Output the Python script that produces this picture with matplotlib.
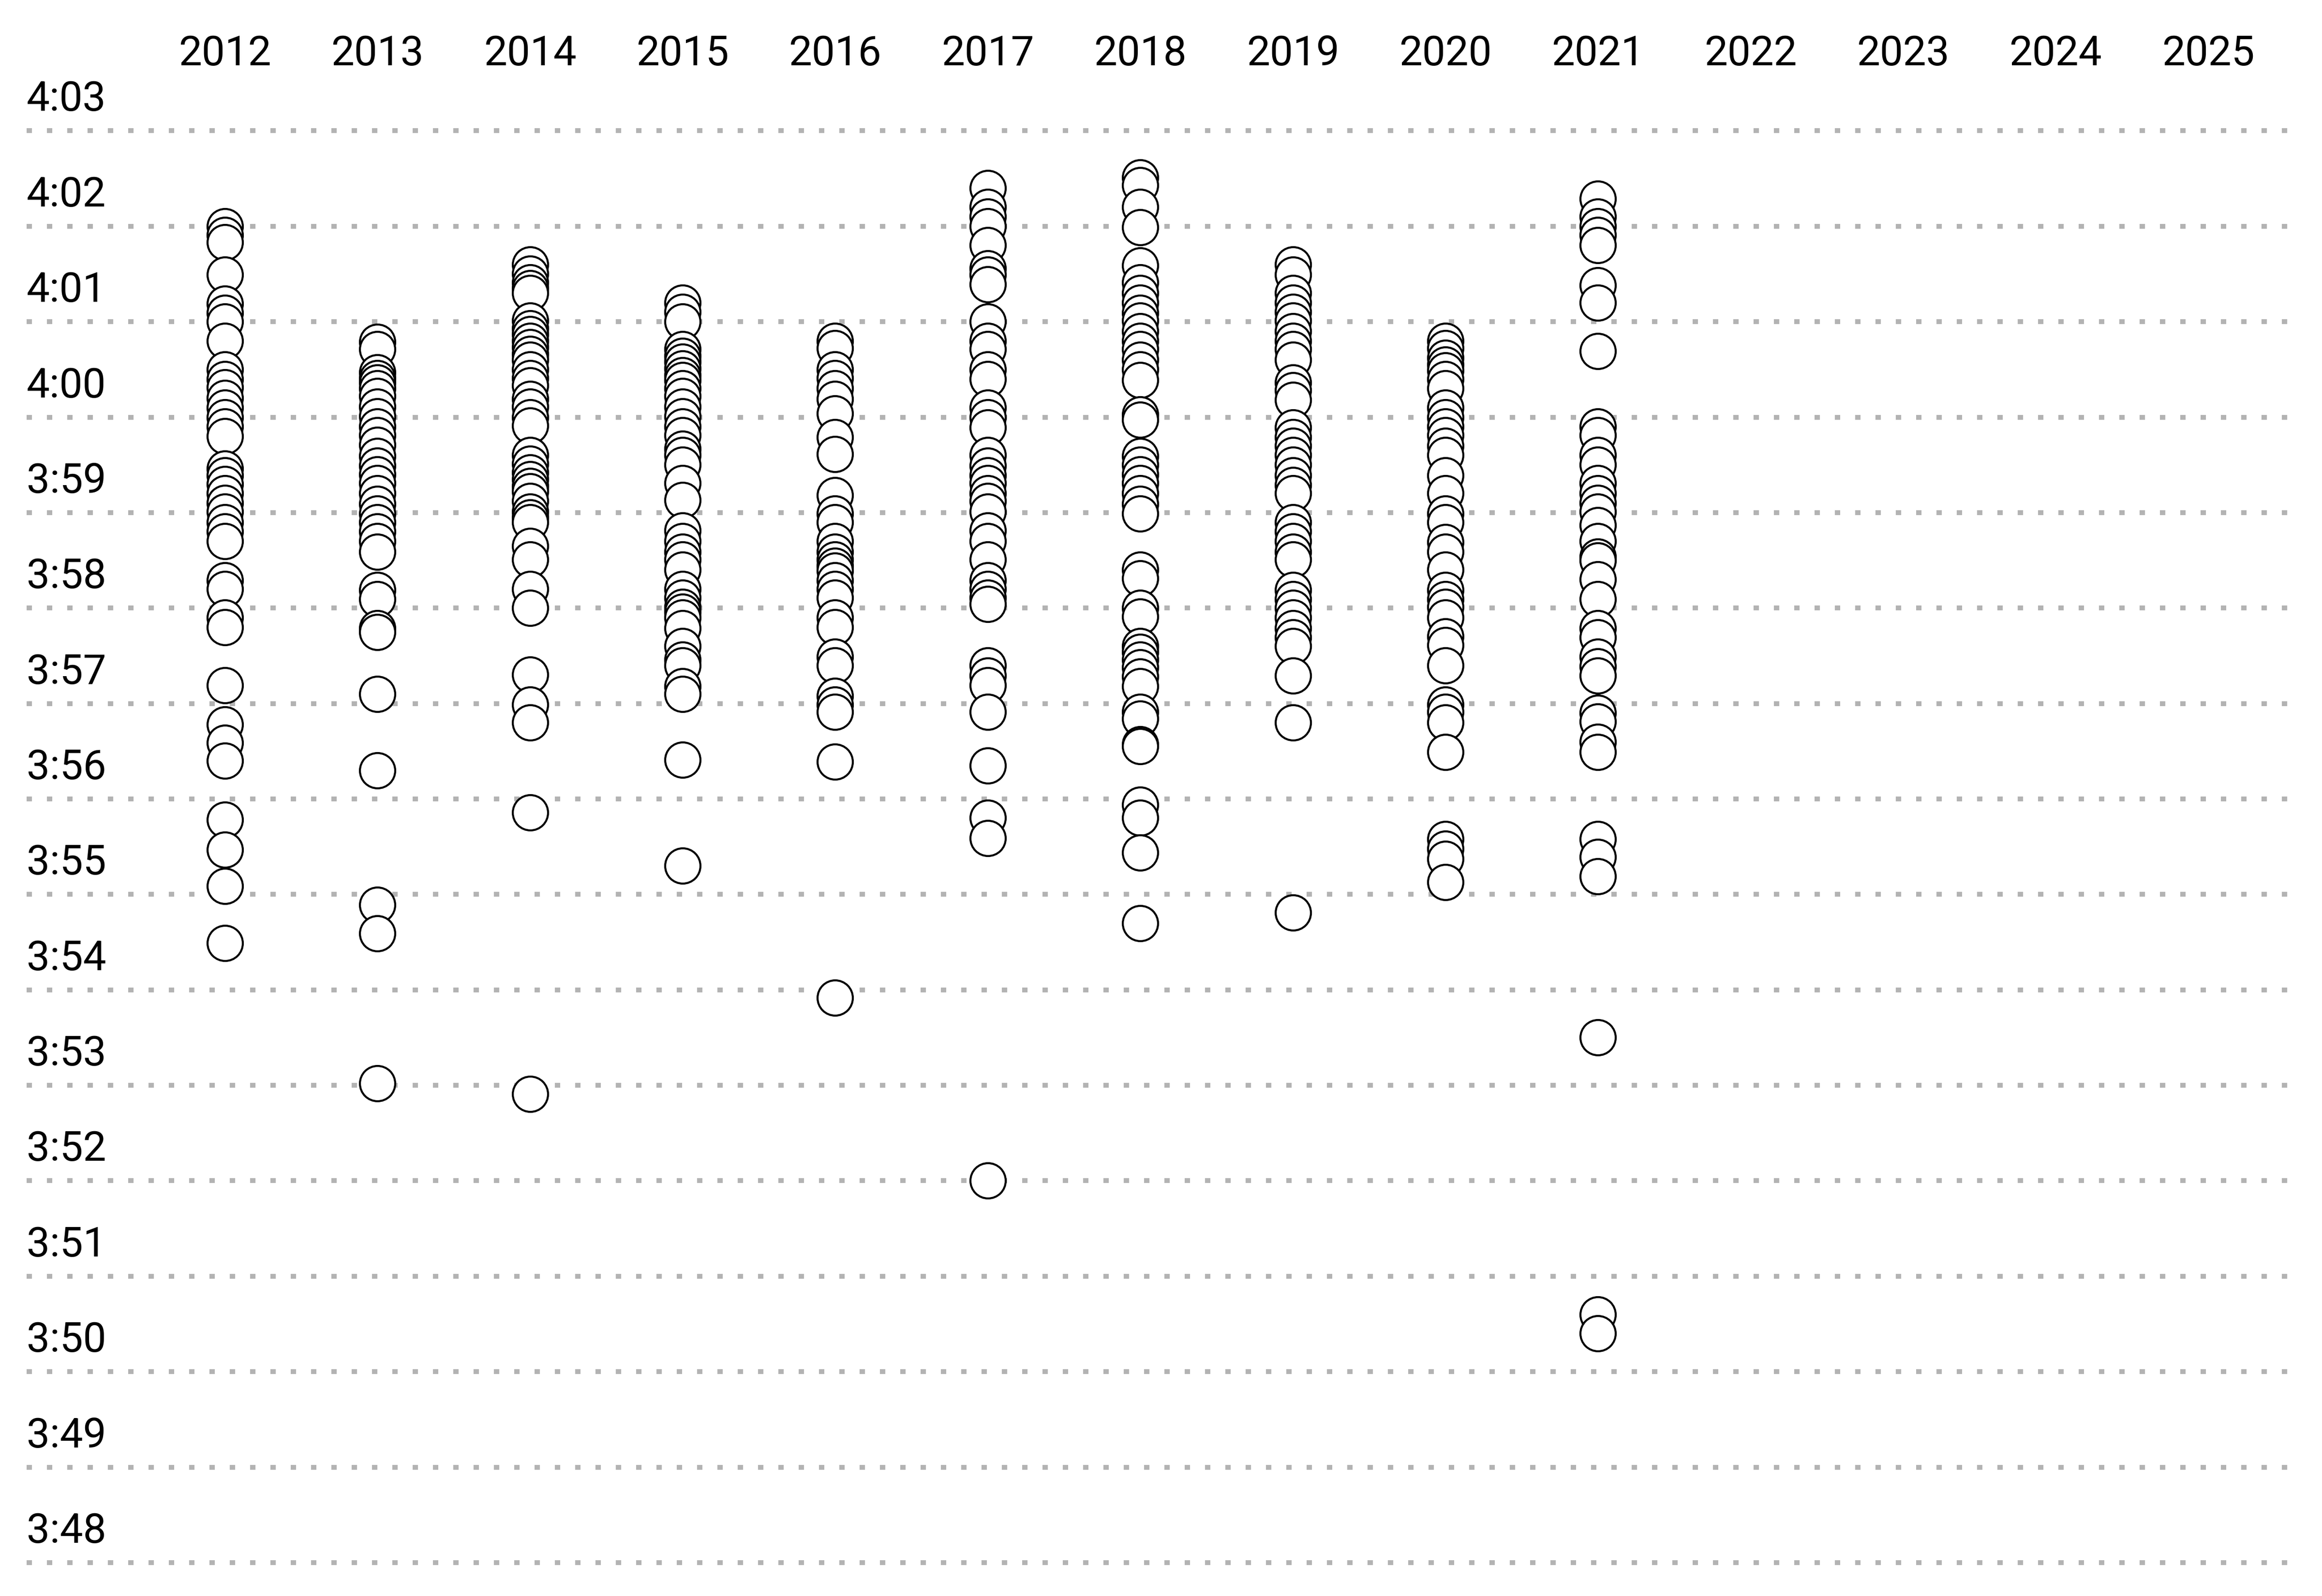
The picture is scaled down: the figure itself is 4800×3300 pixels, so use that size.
import matplotlib
matplotlib.use("Agg")
import matplotlib.pyplot as plt
import matplotlib.transforms as mtransforms

# mile times in seconds, per year
years = list(range(2012, 2026))

y2012 = [242.00, 241.91, 241.83, 241.49, 241.19, 241.09, 241.00, 240.80, 240.50, 240.40,
         240.31, 240.20, 240.10, 240.00, 239.90, 239.80, 239.46, 239.39, 239.30, 239.20,
         239.10, 239.01, 238.90, 238.80, 238.70, 238.29, 238.20, 237.90, 237.80, 237.19,
         236.78, 236.59, 236.40, 235.78, 235.47, 235.09, 234.49]
y2013 = [240.79, 240.71, 240.47, 240.41, 240.36, 240.30, 240.22, 240.11, 240.01, 239.90,
         239.81, 239.71, 239.59, 239.49, 239.40, 239.31, 239.20, 239.09, 238.99, 238.90,
         238.80, 238.70, 238.59, 238.19, 238.09, 237.79, 237.75, 237.10, 236.30, 234.89,
         234.59, 233.02]
y2014 = [241.60, 241.50, 241.41, 241.35, 241.30, 241.01, 240.93, 240.87, 240.80, 240.73,
         240.66, 240.60, 240.50, 240.41, 240.33, 240.19, 240.11, 240.00, 239.91, 239.60,
         239.51, 239.42, 239.35, 239.28, 239.22, 239.12, 239.01, 238.95, 238.90, 238.65,
         238.51, 238.20, 238.00, 237.30, 236.99, 236.80, 235.86, 232.91]
y2015 = [241.20, 241.10, 241.00, 240.71, 240.64, 240.58, 240.51, 240.44, 240.39, 240.30,
         240.22, 240.11, 240.01, 239.90, 239.81, 239.67, 239.60, 239.50, 239.31, 239.13,
         238.81, 238.70, 238.59, 238.51, 238.40, 238.20, 238.11, 238.01, 237.96, 237.90,
         237.79, 237.60, 237.46, 237.40, 237.18, 237.10, 236.41, 235.30]
y2016 = [240.80, 240.72, 240.50, 240.41, 240.30, 240.19, 240.04, 239.79, 239.61, 239.18,
         238.99, 238.90, 238.70, 238.59, 238.51, 238.44, 238.39, 238.29, 238.20, 238.11,
         237.90, 237.80, 237.49, 237.40, 237.08, 236.99, 236.91, 236.39, 233.92]
y2017 = [242.40, 242.20, 242.10, 242.00, 241.80, 241.56, 241.49, 241.39, 241.00, 240.80,
         240.71, 240.50, 240.40, 240.10, 240.00, 239.89, 239.60, 239.49, 239.39, 239.31,
         239.20, 239.12, 239.01, 238.81, 238.70, 238.51, 238.29, 238.20, 238.11, 238.04,
         237.40, 237.29, 237.19, 236.91, 236.35, 235.80, 235.59, 232.00]
y2018 = [242.51, 242.43, 242.20, 241.99, 241.59, 241.41, 241.30, 241.20, 241.09, 241.01,
         240.90, 240.80, 240.71, 240.60, 240.50, 240.39, 240.03, 239.97, 239.59, 239.50,
         239.40, 239.31, 239.20, 239.09, 238.99, 238.40, 238.31, 238.00, 237.91, 237.60,
         237.54, 237.46, 237.38, 237.28, 237.18, 236.91, 236.84, 236.57, 236.55, 235.94,
         235.80, 235.44, 234.70]
y2019 = [241.60, 241.49, 241.30, 241.20, 241.10, 241.01, 240.90, 240.80, 240.71, 240.60,
         240.36, 240.28, 240.18, 239.89, 239.79, 239.70, 239.60, 239.50, 239.39, 239.29,
         239.20, 238.90, 238.80, 238.70, 238.59, 238.51, 238.19, 238.09, 238.00, 237.90,
         237.79, 237.69, 237.60, 237.29, 236.80, 234.81]
y2020 = [240.80, 240.72, 240.62, 240.55, 240.49, 240.40, 240.30, 240.10, 240.00, 239.90,
         239.81, 239.70, 239.60, 239.39, 239.20, 238.99, 238.90, 238.69, 238.59, 238.40,
         238.19, 238.09, 238.01, 237.90, 237.70, 237.61, 237.40, 236.99, 236.91, 236.80,
         236.49, 235.58, 235.48, 235.37, 235.13]
y2021 = [242.29, 242.10, 242.00, 241.91, 241.80, 241.38, 241.20, 240.69, 239.90, 239.81,
         239.60, 239.50, 239.31, 239.20, 239.10, 239.01, 238.87, 238.70, 238.54, 238.50,
         238.30, 238.09, 237.79, 237.69, 237.49, 237.39, 237.29, 236.90, 236.81, 236.60,
         236.49, 235.58, 235.39, 235.19, 233.50, 230.60, 230.40]

times_by_year = {
    2012: y2012, 2013: y2013, 2014: y2014, 2015: y2015, 2016: y2016,
    2017: y2017, 2018: y2018, 2019: y2019, 2020: y2020, 2021: y2021,
}

tick_seconds = list(range(228, 244))
tick_labels = ["%d:%02d" % (s // 60, s % 60) for s in tick_seconds]

plt.rcParams['font.family'] = ['Roboto', 'DejaVu Sans']

fig = plt.figure(figsize=(16, 11), dpi=300)
ax = fig.add_axes([55 / 4800, 0, (4754 - 55) / 4800, 1 - 150 / 3300])

for year, times in times_by_year.items():
    # slower times first so faster ones are drawn on top
    ordered = sorted(times, reverse=True)
    ax.plot([year] * len(ordered), ordered, linestyle='none', marker='o',
            markersize=17.5, markerfacecolor='white', markeredgecolor='black',
            markeredgewidth=1.0, zorder=3)

ax.set_xlim(2010.70, 2025.60)
ax.set_ylim(227.65, 243.61)

ax.set_xticks(years)
ax.set_xticklabels([str(y) for y in years])
ax.xaxis.tick_top()
ax.tick_params(axis='x', length=0, pad=3.6, labelsize=20.5, colors='black')
for lab in ax.get_xticklabels():
    lab.set_va('baseline')

ax.set_yticks(tick_seconds)
ax.set_yticklabels(tick_labels)
ax.tick_params(axis='y', length=0, pad=0, labelsize=20.5, colors='black')
offset = mtransforms.ScaledTranslation(0, 41 / 300, fig.dpi_scale_trans)
for lab in ax.get_yticklabels():
    lab.set_ha('left')
    lab.set_va('baseline')
    lab.set_transform(lab.get_transform() + offset)

ax.grid(axis='y', color='#b3b3b3', linewidth=2.4, linestyle=(0, (1.1, 3.1)), zorder=1)
ax.grid(axis='x', visible=False)
for side in ax.spines.values():
    side.set_visible(False)

fig.savefig('out.png', dpi=300)
